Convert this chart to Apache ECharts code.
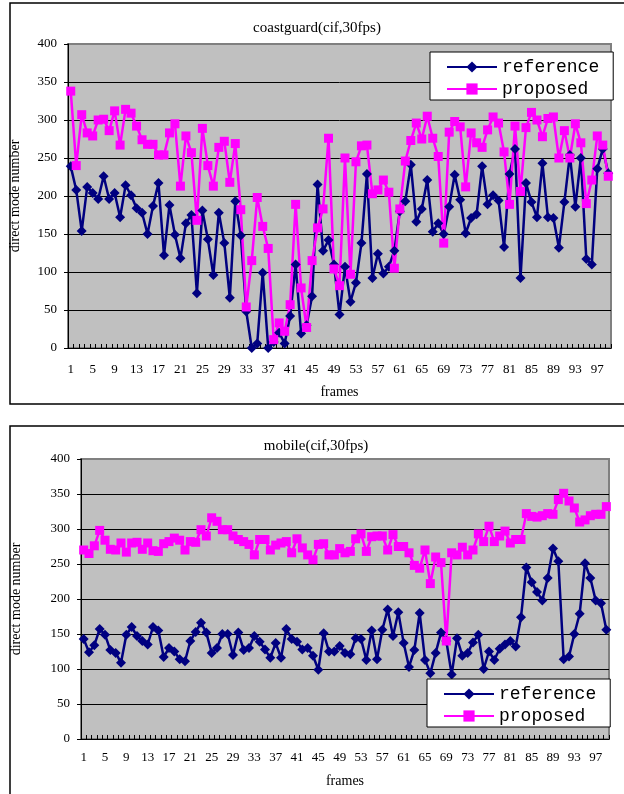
<!DOCTYPE html>
<html>
<head>
<meta charset="utf-8">
<script src="https://cdn.jsdelivr.net/npm/echarts@6/dist/echarts.min.js"></script>
<style>
  html, body { margin: 0; padding: 0; background: #fff; }
  #chart { width: 624px; height: 794px; }
</style>
</head>
<body>
<div id="chart"></div>
<script>
// frame numbers 1..99
const frames = [];
for (let i = 1; i <= 99; i++) frames.push(String(i));

const seriesNames = ['reference', 'proposed'];
const chartTitles = ['coastguard(cif,30fps)', 'mobile(cif,30fps)'];

// coastguard
const coastReference = [
    239, 208, 154, 212, 204, 196, 226, 196, 204, 172,
    214, 201, 184, 178, 150, 187, 217, 122, 188, 149,
    118, 164, 175, 72, 181, 143, 96, 178, 138, 66,
    193, 148, 48, 0, 6, 99, 0, 8, 20, 6,
    42, 110, 19, 30, 68, 215, 128, 142, 110, 44,
    107, 61, 86, 138, 229, 92, 124, 98, 107, 128,
    180, 193, 241, 166, 183, 221, 153, 164, 150, 186,
    228, 195, 151, 171, 176, 239, 189, 201, 194, 133,
    229, 262, 92, 217, 192, 172, 243, 172, 171, 132,
    192, 254, 186, 250, 117, 110, 236, 262, 230
];
const coastProposed = [
    338, 240, 307, 283, 279, 300, 301, 286, 312, 267,
    314, 309, 292, 274, 268, 268, 254, 254, 283, 295,
    213, 279, 257, 168, 289, 240, 213, 264, 272, 218,
    269, 182, 54, 115, 198, 160, 131, 11, 33, 22,
    57, 189, 79, 27, 115, 158, 183, 276, 104, 82,
    250, 97, 245, 266, 267, 203, 208, 221, 205, 105,
    183, 246, 273, 296, 275, 305, 276, 252, 138, 284,
    298, 291, 212, 283, 270, 264, 287, 304, 296, 258,
    189, 292, 206, 290, 310, 300, 278, 302, 304, 250,
    286, 250, 295, 270, 190, 221, 279, 267, 226
];

// mobile
const mobileReference = [
    143, 124, 134, 157, 149, 127, 123, 109, 149, 160,
    147, 140, 135, 160, 155, 117, 130, 125, 114, 111,
    140, 153, 166, 152, 123, 130, 150, 150, 120, 152,
    127, 130, 147, 139, 128, 116, 137, 116, 157, 143,
    139, 128, 130, 119, 99, 151, 125, 125, 133, 123,
    121, 144, 143, 113, 155, 114, 156, 185, 147, 181,
    137, 103, 127, 180, 113, 94, 123, 152, 140, 92,
    144, 119, 123, 138, 149, 100, 125, 113, 129, 135,
    140, 132, 174, 245, 224, 210, 198, 230, 272, 254,
    114, 118, 150, 179, 251, 230, 198, 194, 156
];
const mobileProposed = [
    270, 265, 276, 298, 284, 271, 270, 280, 267, 280,
    281, 271, 280, 269, 268, 279, 282, 287, 284, 270,
    282, 281, 299, 290, 316, 311, 299, 299, 290, 285,
    282, 278, 263, 285, 285, 270, 277, 280, 282, 266,
    286, 273, 263, 256, 278, 279, 263, 263, 272, 266,
    268, 286, 293, 268, 289, 290, 290, 270, 292, 275,
    275, 266, 248, 244, 270, 222, 260, 252, 140, 266,
    263, 274, 263, 270, 293, 282, 304, 282, 290, 297,
    280, 285, 285, 322, 318, 317, 319, 322, 321, 342,
    351, 340, 330, 310, 313, 319, 321, 321, 332
];

const yTicks = { min: 0, max: 400, interval: 50 };

const chart = echarts.init(document.getElementById('chart'));

const serif = 'Liberation Serif';
const navy = '#000080';
const magenta = '#FF00FF';

// layout of the two panels
const panels = [
    { grid: { left: 68, top: 44, width: 543, height: 304 }, yNameGap: 46, xLabelMargin: 15, xNameGap: 37,
      legend: { left: 430, top: 52 }, ref: coastReference, prop: coastProposed },
    { grid: { left: 81, top: 459, width: 528, height: 280 }, yNameGap: 58, xLabelMargin: 12, xNameGap: 35,
      legend: { left: 427, top: 679 }, ref: mobileReference, prop: mobileProposed }
];

function makeXAxis(p, idx) {
    return {
        type: 'category',
        gridIndex: idx,
        data: frames,
        boundaryGap: true,
        name: 'frames',
        nameLocation: 'middle',
        nameGap: p.xNameGap,
        nameTextStyle: { fontFamily: serif, fontSize: 14, color: '#000' },
        axisLine: { lineStyle: { color: '#000', width: 1 } },
        axisTick: { show: true, inside: true, length: 4, interval: 0, lineStyle: { color: '#000' } },
        axisLabel: { interval: 3, margin: p.xLabelMargin, fontFamily: serif, fontSize: 13, color: '#000' }
    };
}

function makeYAxis(p, idx) {
    return {
        type: 'value',
        gridIndex: idx,
        min: yTicks.min,
        max: yTicks.max,
        interval: yTicks.interval,
        name: 'direct mode number',
        nameLocation: 'middle',
        nameRotate: 90,
        nameGap: p.yNameGap,
        nameTextStyle: { fontFamily: serif, fontSize: 14, color: '#000' },
        axisLine: { show: true, lineStyle: { color: '#000', width: 1 } },
        axisTick: { show: true, inside: false, length: 4, lineStyle: { color: '#000' } },
        axisLabel: { margin: 11, fontFamily: serif, fontSize: 13, color: '#000' },
        splitLine: { show: true, showMaxLine: false, lineStyle: { color: '#000', width: 1 } }
    };
}

function makeLegend(p) {
    return {
        orient: 'vertical',
        left: p.legend.left,
        top: p.legend.top,
        data: seriesNames,
        backgroundColor: '#fff',
        borderColor: '#000',
        borderWidth: 1,
        borderRadius: 0,
        padding: [6, 14, 2, 16],
        itemGap: 4,
        itemWidth: 50,
        itemHeight: 14,
        textStyle: { fontFamily: 'Liberation Mono', fontSize: 18, color: '#000' }
    };
}

const series = [];
panels.forEach((p, idx) => {
    series.push({
        name: seriesNames[0],
        type: 'line',
        xAxisIndex: idx,
        yAxisIndex: idx,
        data: p.ref,
        symbol: 'diamond',
        symbolSize: 10,
        showAllSymbol: true,
        lineStyle: { color: navy, width: 2.5 },
        itemStyle: { color: navy },
        animation: false
    });
    series.push({
        name: seriesNames[1],
        type: 'line',
        xAxisIndex: idx,
        yAxisIndex: idx,
        data: p.prop,
        symbol: 'rect',
        symbolSize: 9,
        showAllSymbol: true,
        lineStyle: { color: magenta, width: 2.5 },
        itemStyle: { color: magenta },
        animation: false
    });
});

const option = {
    backgroundColor: '#fff',
    animation: false,
    grid: panels.map(p => Object.assign({
        show: true,
        backgroundColor: '#C0C0C0',
        borderColor: '#808080',
        borderWidth: 2
    }, p.grid)),
    xAxis: panels.map(makeXAxis),
    yAxis: panels.map(makeYAxis),
    legend: panels.map(makeLegend),
    series: series,
    graphic: [
        // outer chart frames
        { type: 'rect', shape: { x: 10, y: 3, width: 630, height: 401 },
          style: { fill: 'none', stroke: '#000', lineWidth: 1.5 }, z: -10 },
        { type: 'rect', shape: { x: 10, y: 426, width: 630, height: 400 },
          style: { fill: 'none', stroke: '#000', lineWidth: 1.5 }, z: -10 },
        // titles
        { type: 'text', x: 317, y: 28,
          style: { text: chartTitles[0], fontFamily: serif, fontSize: 15, fill: '#000', textAlign: 'center', textVerticalAlign: 'middle' } },
        { type: 'text', x: 316, y: 446,
          style: { text: chartTitles[1], fontFamily: serif, fontSize: 15, fill: '#000', textAlign: 'center', textVerticalAlign: 'middle' } }
    ]
};

chart.setOption(option);
</script>
</body>
</html>
